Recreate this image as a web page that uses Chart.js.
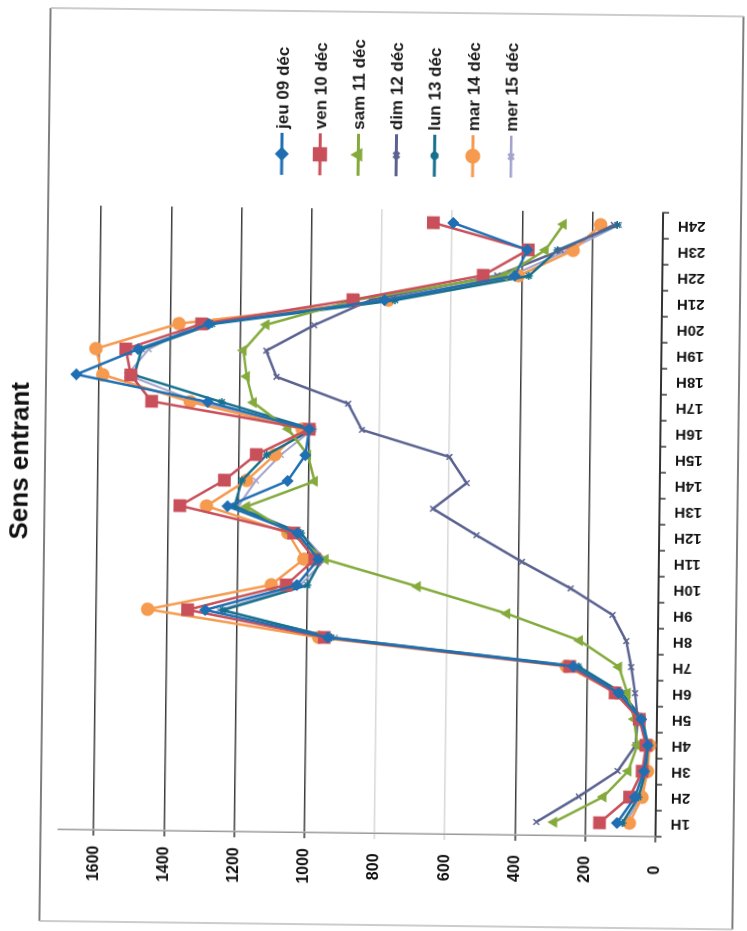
<!DOCTYPE html>
<html>
<head>
<meta charset="utf-8">
<script src="https://cdn.jsdelivr.net/npm/chart.js@4/dist/chart.umd.min.js"></script>
<style>
  html, body { margin: 0; padding: 0; background: #fff; overflow: hidden; }
  #page { position: absolute; left: 0; top: 0; width: 747px; height: 931px; transform: rotate(0.7deg); }
  /* the sheet is printed landscape, so the chart is turned a quarter turn */
  #sheet { position: absolute; left: 0; top: 0; width: 931px; height: 747px;
           transform-origin: 0 0; transform: translate(0px, 931px) rotate(-90deg); }
</style>
</head>
<body>
<div id="page">
  <div id="sheet"><canvas id="graphique" width="931" height="747"></canvas></div>
</div>
<script>
// comptages horaires, sens entrant
const heures = ["1H","2H","3H","4H","5H","6H","7H","8H","9H","10H","11H","12H",
                "13H","14H","15H","16H","17H","18H","19H","20H","21H","22H","23H","24H"];

const jeu09 = [110, 60, 35, 25, 45, 110, 240, 940, 1290, 1030, 970, 1030, 1230, 1060, 1010, 1000, 1290, 1665, 1490, 1290, 790, 420, 385, 597];
const ven10 = [160, 75, 40, 30, 50, 120, 250, 950, 1340, 1060, 980, 1040, 1366, 1240, 1150, 1000, 1450, 1510, 1525, 1310, 880, 510, 383, 654];
const sam11 = [290, 150, 80, 55, 65, 85, 110, 223, 431, 686, 950, 1050, 1175, 983, 1003, 1060, 1160, 1180, 1190, 1126, 870, 450, 334, 283];
const dim12 = [340, 220, 110, 60, 55, 63, 75, 90, 130, 250, 390, 520, 645, 550, 600, 850, 890, 1095, 1125, 990, 830, 470, 290, 140];
const lun13 = [95, 50, 30, 25, 40, 100, 225, 930, 1240, 1000, 960, 1020, 1210, 1190, 1120, 990, 1250, 1500, 1480, 1280, 760, 380, 300, 130];
const mar14 = [75, 40, 25, 20, 50, 115, 260, 966, 1454, 1103, 1011, 1057, 1290, 1177, 1097, 1020, 1340, 1590, 1610, 1375, 780, 410, 255, 177];
const mer15 = [85, 45, 30, 30, 50, 110, 230, 920, 1250, 1020, 950, 1020, 1200, 1150, 1080, 990, 1320, 1520, 1460, 1320, 800, 430, 270, 125];

const graduations = [0, 200, 400, 600, 800, 1000, 1200, 1400, 1600];

const serie = (label, data, color, style, r, w) => ({
  label: label, data: data,
  borderColor: color, backgroundColor: color,
  borderWidth: w, pointStyle: style, pointRadius: r,
  pointBorderColor: color, pointBackgroundColor: color, pointBorderWidth: 1.5,
  tension: 0, clip: false
});

// legende trait + marqueur, titre et cadre dessines a la main
const decor = {
  id: 'decor',
  afterDraw(chart) {
    const ctx = chart.ctx;
    ctx.save();
    // cadre
    ctx.strokeStyle = '#555'; ctx.lineWidth = 1.5;
    ctx.beginPath(); ctx.moveTo(6, 45); ctx.lineTo(919, 45); ctx.stroke();
    ctx.beginPath(); ctx.moveTo(6, 738); ctx.lineTo(919, 738); ctx.stroke();
    ctx.strokeStyle = '#bbb';
    ctx.beginPath(); ctx.moveTo(919, 45); ctx.lineTo(919, 738); ctx.stroke();
    ctx.beginPath(); ctx.moveTo(6, 45); ctx.lineTo(6, 738); ctx.stroke();
    // titre
    ctx.fillStyle = '#111';
    ctx.font = "bold 26px 'Liberation Sans', Arial, sans-serif";
    ctx.textAlign = 'center'; ctx.textBaseline = 'middle';
    ctx.fillText('Sens entrant', 466, 21);
    // legende
    ctx.font = "bold 17px 'Liberation Sans', Arial, sans-serif";
    ctx.textAlign = 'left';
    chart.data.datasets.forEach((ds, i) => {
      const y = 278 + i * 38.2;
      ctx.strokeStyle = ds.borderColor; ctx.lineWidth = ds.borderWidth + 0.5;
      ctx.beginPath(); ctx.moveTo(755, y); ctx.lineTo(797, y); ctx.stroke();
      ctx.fillStyle = ds.backgroundColor;
      Chart.helpers.drawPoint(ctx, {
        pointStyle: ds.pointStyle, radius: ds.pointRadius, rotation: 0, borderWidth: 1.5
      }, 776, y);
      ctx.fillStyle = '#1a1a1a';
      ctx.fillText(ds.label, 801, y + 1);
    });
    ctx.restore();
  }
};

new Chart(document.getElementById('graphique'), {
  type: 'line',
  data: {
    labels: heures,
    datasets: [
      serie('jeu 09 déc', jeu09, '#1f6fb2', 'rectRot', 5, 2.5),
      serie('ven 10 déc', ven10, '#c9505b', 'rect', 8, 2.5),
      serie('sam 11 déc', sam11, '#84aa3c', 'triangle', 5, 2.5),
      serie('dim 12 déc', dim12, '#5a6290', 'crossRot', 4, 2.5),
      serie('lun 13 déc', lun13, '#17708c', 'star', 4, 2.5),
      serie('mar 14 déc', mar14, '#f59a4e', 'circle', 6, 2.5),
      serie('mer 15 déc', mer15, '#a2a2cc', 'crossRot', 4, 2)
    ]
  },
  options: {
    responsive: false,
    animation: false,
    layout: { padding: { top: 63, right: 209, bottom: 42, left: 38 } },
    plugins: { legend: { display: false }, title: { display: false }, tooltip: { enabled: false } },
    scales: {
      x: {
        offset: true,
        grid: { offset: true, drawOnChartArea: false, drawTicks: true, tickLength: 6, color: '#333', lineWidth: 1.5 },
        border: { display: true, color: '#333', width: 2 },
        ticks: {
          autoSkip: false, minRotation: 90, maxRotation: 90, padding: 9, color: '#111',
          font: { family: "'Liberation Sans', Arial, sans-serif", size: 15, weight: 'bold' }
        },
        afterFit: s => { s.height = 45; }
      },
      y: {
        min: 0, max: 1700,
        afterBuildTicks: s => { s.ticks = graduations.map(v => ({ value: v })); },
        grid: {
          tickLength: 6, lineWidth: 1.6,
          color: c => (c.tick && (c.tick.value === 600 || c.tick.value === 800)) ? '#d8d8d8' : '#3c3c3c'
        },
        border: { display: true, color: '#999', width: 1.5 },
        ticks: {
          padding: 10, crossAlign: 'center', color: '#111',
          callback: v => String(v),
          font: { family: "'Liberation Sans', Arial, sans-serif", size: 16, weight: 'bold' }
        },
        afterFit: s => { s.width = 60; }
      }
    }
  },
  plugins: [decor]
});
</script>
</body>
</html>
